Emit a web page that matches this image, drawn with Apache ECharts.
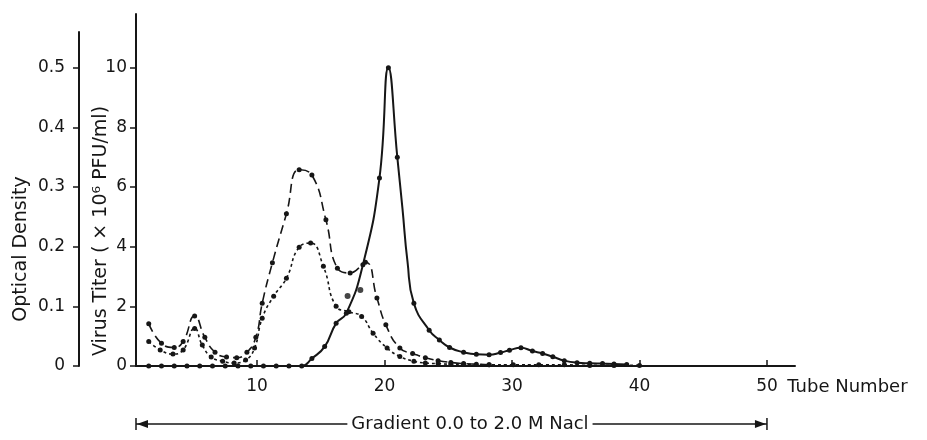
<!DOCTYPE html>
<html>
<head>
<meta charset="utf-8">
<script src="https://cdn.jsdelivr.net/npm/echarts@6/dist/echarts.min.js"></script>
<style>
    html, body { margin: 0; padding: 0; background: #fff; }
    #chart { width: 927px; height: 440px; }
</style>
</head>
<body>
<div id="chart"></div>
<script>
// tube number, value pairs
// long dashed curve (optical density)
var odDashed = [[1.5,0.071],[2.5,0.038],[3.5,0.031],[4.2,0.041],[5.1,0.084],[5.9,0.048],[6.7,0.023],
    [7.6,0.015],[8.4,0.014],[9.2,0.023],[9.9,0.048],[10.4,0.105],[11.2,0.173],[12.3,0.255],[13.3,0.329],
    [14.3,0.320],[15.4,0.245],[16.3,0.164],[17.3,0.156],[18.5,0.174],[19.4,0.114],[20.1,0.069],[21.2,0.030],
    [22.2,0.021],[23.2,0.014],[24.2,0.009],[25.2,0.006],[26.2,0.004],[27.2,0.003],[28.2,0.002]];

// short dashed curve (optical density)
var odDotted = [[1.5,0.041],[2.4,0.027],[3.4,0.020],[4.2,0.027],[5.1,0.063],[5.7,0.035],[6.4,0.015],
    [7.3,0.008],[8.2,0.005],[9.1,0.010],[9.8,0.030],[10.4,0.080],[11.3,0.117],[12.3,0.147],[13.3,0.199],
    [14.2,0.206],[15.2,0.167],[16.2,0.100],[17.2,0.091],[18.2,0.083],[19.1,0.055],[20.2,0.030],[21.2,0.016],
    [22.3,0.008],[23.2,0.005],[24.2,0.004],[25.2,0.003],[26.2,0.003],[28.2,0.002],[30.1,0.002],[32.1,0.002],
    [34.1,0.002],[36.1,0.001],[38.0,0.001],[40.0,0.001]];

// solid curve (virus titer, x10^6 PFU/ml)
var titer = [[1.5,0],[2.5,0],[3.5,0],[4.5,0],[5.5,0],[6.5,0],[7.5,0],[8.5,0],[9.5,0],[10.5,0],[11.5,0],
    [12.5,0],[13.5,0],[14.3,0.25],[15.3,0.65],[16.2,1.43],[17.0,1.77],[18.3,3.39],[19.6,6.3],[20.3,10.0],
    [21.0,7.0],[21.4,5.3],[21.8,3.5],[22.3,2.1],[23.5,1.2],[24.3,0.87],[25.1,0.62],[26.2,0.46],[27.2,0.39],
    [28.2,0.38],[29.1,0.45],[29.8,0.53],[30.7,0.61],[31.6,0.5],[32.4,0.42],[33.2,0.31],[34.1,0.18],
    [35.1,0.11],[36.1,0.09],[37.1,0.08],[38.0,0.07],[39.0,0.05]];
var titerUnmarked = [21.4, 21.8];   // curve guide points with no dot

// loose points off the curves
var strayPoints = [[17.1,2.35],[18.1,2.55]];

var tubeTicks = [10, 20, 30, 40, 50];
var titerTicks = [0, 2, 4, 6, 8, 10];
var odTicks = [0, 0.1, 0.2, 0.3, 0.4, 0.5];

var ink = '#161616';
var font = 'DejaVu Sans';

var chart = echarts.init(document.getElementById('chart'));

var titerData = titer.map(function (p) {
    if (titerUnmarked.indexOf(p[0]) >= 0) return { value: p, symbol: 'none' };
    return p;
});

chart.setOption({
    animation: false,
    backgroundColor: '#fff',
    grid: [
        { left: 136, right: 132, top: 14, bottom: 74 },
        { left: 79, width: 1, top: 32, bottom: 74 }
    ],
    xAxis: [{
        gridIndex: 0, type: 'value', min: 0.5, max: 52.2,
        axisLine: { lineStyle: { color: ink, width: 2 } },
        axisTick: { inside: true, length: 6, lineStyle: { color: ink, width: 1.5 }, customValues: tubeTicks },
        axisLabel: { color: ink, fontFamily: font, fontSize: 17, margin: 12, customValues: tubeTicks },
        splitLine: { show: false }
    }, {
        gridIndex: 1, type: 'value', show: false
    }],
    yAxis: [{
        gridIndex: 0, type: 'value', min: 0, max: 11.8, position: 'left',
        axisLine: { show: true, lineStyle: { color: ink, width: 2 } },
        axisTick: { show: true, length: 6, lineStyle: { color: ink, width: 1.5 }, customValues: titerTicks },
        axisLabel: { color: ink, fontFamily: font, fontSize: 17, margin: 9, customValues: titerTicks },
        splitLine: { show: false }
    }, {
        // optical density scale for the grid, same height as titer (0.5 = 10)
        gridIndex: 0, type: 'value', min: 0, max: 0.59, show: false
    }, {
        gridIndex: 1, type: 'value', min: 0, max: 0.56, position: 'left',
        axisLine: { show: true, lineStyle: { color: ink, width: 2 } },
        axisTick: { show: true, length: 6, lineStyle: { color: ink, width: 1.5 }, customValues: odTicks },
        axisLabel: {
            color: ink, fontFamily: font, fontSize: 17, margin: 14, customValues: odTicks,
            formatter: function (v) { return v === 0 ? '0' : v.toFixed(1); }
        },
        splitLine: { show: false }
    }],
    series: [{
        name: 'OD dashed', type: 'line', xAxisIndex: 0, yAxisIndex: 1,
        data: odDashed, smooth: 0.5,
        symbol: 'circle', symbolSize: 5, itemStyle: { color: ink },
        lineStyle: { color: ink, width: 1.6, type: [9, 5] }
    }, {
        name: 'OD dotted', type: 'line', xAxisIndex: 0, yAxisIndex: 1,
        data: odDotted, smooth: 0.5,
        symbol: 'circle', symbolSize: 5, itemStyle: { color: ink },
        lineStyle: { color: ink, width: 1.6, type: [3, 3] }
    }, {
        name: 'Virus titer', type: 'line', xAxisIndex: 0, yAxisIndex: 0,
        data: titerData, smooth: 0.5,
        symbol: 'circle', symbolSize: 5, itemStyle: { color: ink },
        lineStyle: { color: ink, width: 2 }
    }, {
        name: 'stray', type: 'scatter', xAxisIndex: 0, yAxisIndex: 0,
        data: strayPoints, symbolSize: 6, itemStyle: { color: ink }
    }]
});

// annotations placed from the axes
var p0 = chart.convertToPixel({ xAxisIndex: 0, yAxisIndex: 0 }, [0.5, 0]);
var p50 = chart.convertToPixel({ xAxisIndex: 0, yAxisIndex: 0 }, [50, 0]);
var pName = chart.convertToPixel({ xAxisIndex: 0, yAxisIndex: 0 }, [51.6, 0]);
var pText = chart.convertToPixel({ xAxisIndex: 0, yAxisIndex: 0 }, [26.7, 0]);
var ay = p0[1] + 58;
var lineStyle = { stroke: ink, lineWidth: 1.5 };

chart.setOption({
    graphic: [
        { type: 'text', x: 21, y: 249, rotation: Math.PI / 2,
          style: { text: 'Optical Density', fill: ink, font: '19px "DejaVu Sans"', align: 'center', verticalAlign: 'middle' } },
        { type: 'text', x: 101, y: 231, rotation: Math.PI / 2,
          style: { text: 'Virus Titer ( \u00d7 10\u2076 PFU/ml)', fill: ink, font: '19px "DejaVu Sans"', align: 'center', verticalAlign: 'middle' } },
        { type: 'text', x: pName[0], y: p0[1] + 21,
          style: { text: 'Tube Number', fill: ink, font: '18px "DejaVu Sans"', align: 'left', verticalAlign: 'middle' } },
        { type: 'line', shape: { x1: p0[0], y1: ay, x2: p50[0], y2: ay }, style: lineStyle },
        { type: 'line', shape: { x1: p0[0], y1: ay - 6, x2: p0[0], y2: ay + 6 }, style: lineStyle },
        { type: 'line', shape: { x1: p50[0], y1: ay - 6, x2: p50[0], y2: ay + 6 }, style: lineStyle },
        { type: 'polygon', shape: { points: [[p0[0] + 1, ay], [p0[0] + 12, ay - 4], [p0[0] + 12, ay + 4]] }, style: { fill: ink } },
        { type: 'polygon', shape: { points: [[p50[0] - 1, ay], [p50[0] - 12, ay - 4], [p50[0] - 12, ay + 4]] }, style: { fill: ink } },
        { type: 'text', x: pText[0], y: ay,
          style: { text: 'Gradient 0.0 to 2.0 M Nacl', fill: ink, font: '18px "DejaVu Sans"', align: 'center', verticalAlign: 'middle',
                   backgroundColor: '#fff', padding: [0, 4] } }
    ]
});
</script>
</body>
</html>
